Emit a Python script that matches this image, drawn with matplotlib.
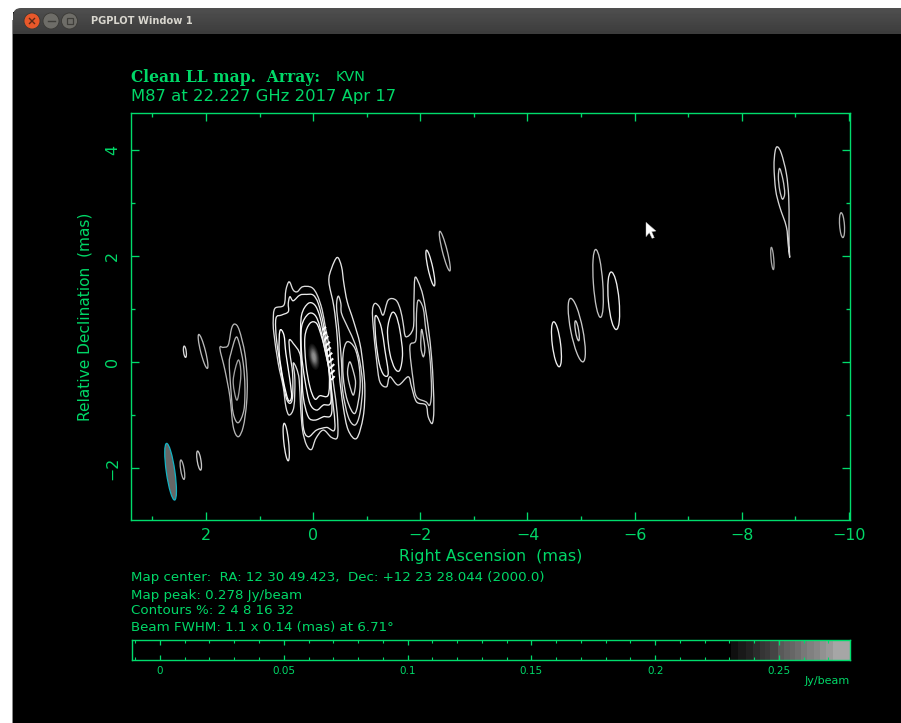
import matplotlib
matplotlib.use("Agg")
import matplotlib.pyplot as plt
from matplotlib.patches import Ellipse, Circle, FancyBboxPatch, Polygon, Rectangle, PathPatch
from matplotlib.path import Path
from matplotlib.ticker import MultipleLocator
import numpy as np

W, H = 901, 723
GREEN = "#00dc6c"
TXT = "#00d868"

# ---- contour traces (RA, Dec in mas) ----
ra_core1 = [.447,.372,.297,.198,.030,-.076,-.169,-.231,-.300,-.343,-.387,-.449,-.455,-.343,-.188,-.051,.030,.123,.198,.235,.260,.310,.372,.341,.360,.447,.509,.559,.652,.733,.745,.714,.546,.509]
dec_core1 = [1.516,1.359,1.327,1.421,1.409,1.264,.981,.635,.289,-.120,-.466,-.969,-1.409,-1.422,-1.283,-1.441,-1.648,-1.566,-1.283,-.843,-.340,-.120,-.025,-.340,-.843,-1.000,-.843,-.466,-.025,.541,.792,1.013,1.075,1.359]
ra_core2 = [.248,.123,-.001,-.095,-.188,-.250,-.300,-.343,-.405,-.250,-.063,.092,.185,.216,.235,.372,.447,.434,.384,.384,.434,.509,.590,.683,.695,.590,.465,.465,.434,.372]
dec_core2 = [1.264,1.277,1.264,1.107,.730,.289,-.151,-.529,-1.252,-1.233,-1.283,-1.409,-1.220,-.529,.101,.352,.415,.163,-.214,-.654,-.780,-.654,-.214,.415,.824,.887,.950,1.107,1.233,1.157]
ra_core3 = [.216,.092,-.032,-.126,-.200,-.269,-.325,-.343,-.188,-.032,.092,.185,.216,.235]
dec_core3 = [.887,1.107,1.075,.855,.478,.038,-.340,-.969,-1.032,-1.095,-1.032,-.654,-.088,.415]
ra_lobe3 = [.621,.546,.509,.434,.403,.465,.559,.633]
dec_lobe3 = [.591,.510,.163,-.340,-.654,-.717,-.340,.163]
ra_core4 = [.216,.092,-.032,-.126,-.219,-.294,-.331,-.188,-.063,.061,.154,.216]
dec_core4 = [.667,.906,.887,.667,.226,-.151,-.749,-.811,-.906,-.780,-.340,.163]
ra_core5 = [.154,.061,-.063,-.157,-.238,-.300,-.281,-.126,-.032,.061,.136]
dec_core5 = [.478,.730,.730,.478,.163,-.214,-.623,-.635,-.698,-.466,-.025]

ra_east1 = [-.449,-.530,-.573,-.636,-.748,-.872,-.934,-.965,-.934,-.810,-.654,-.561,-.486,-.449,-.387,-.294,-.343]
dec_east1 = [1.975,1.799,1.484,1.138,.792,.352,-.088,-.529,-1.032,-1.441,-1.283,-.843,-.214,.478,1.044,1.516,1.767]
ra_east2 = [-.468,-.517,-.530,-.654,-.779,-.872,-.922,-.872,-.779,-.654,-.549,-.530,-.486,-.437]
dec_east2 = [1.245,1.107,.918,.635,.352,.006,-.466,-.969,-1.189,-1.032,-.529,-.025,.541,1.044]
ra_east3 = [-.636,-.779,-.860,-.872,-.779,-.636,-.561,-.561]
dec_east3 = [.384,.258,-.088,-.529,-.969,-.717,-.277,.163]
ra_east4 = [-.685,-.760,-.791,-.748,-.673,-.642]
dec_east4 = [.006,-.214,-.403,-.623,-.403,-.182]

ra_jet1 = [-1.152,-1.233,-1.307,-1.401,-1.544,-1.631,-1.680,-1.730,-1.867,-1.880,-1.898,-1.961,-2.054,-2.147,-2.209,-2.240,-2.253,-2.222,-2.147,-2.104,-1.929,-1.836,-1.774,-1.587,-1.432,-1.370,-1.245,-1.183,-1.121,-1.108]
dec_jet1 = [1.107,1.044,.887,1.170,1.170,.981,.730,.478,.635,1.107,1.579,1.516,1.233,.667,.101,-.403,-.906,-1.158,-1.032,-.811,-.749,-.466,-.277,-.434,-.277,-.466,-.371,.038,.667,.981]
ra_jet2 = [-1.152,-1.195,-1.276,-1.339,-1.401,-1.320,-1.233,-1.171]
dec_jet2 = [.824,.855,.635,.226,-.214,-.245,-.025,.415]
ra_jet3 = [-1.463,-1.544,-1.618,-1.668,-1.618,-1.525,-1.432,-1.388]
dec_jet3 = [.918,.887,.604,.163,-.151,-.120,.163,.604]
ra_jet4 = [-1.961,-2.054,-2.104,-2.178,-2.209,-2.178,-2.104,-1.929,-1.867,-1.805,-1.917,-1.929]
dec_jet4 = [1.170,1.013,.604,.101,-.529,-.811,-.749,-.654,-.340,.289,.415,.918]
ra_jet5 = [-2.023,-2.066,-2.085,-2.054,-2.010]
dec_jet5 = [.616,.415,.226,.101,.289]

ra_west1 = [1.461,1.380,1.274,1.231,1.243,1.305,1.399,1.492,1.554,1.647,1.741,1.678,1.585,1.523]
dec_west1 = [.717,.604,.164,-.340,-.780,-1.220,-1.409,-1.220,-.654,-.151,.258,.277,.321,.635]
ra_west2 = [1.442,1.380,1.305,1.274,1.293,1.399,1.492,1.535,1.566,1.535]
dec_west2 = [.466,.352,-.025,-.465,-.906,-1.145,-.968,-.528,-.025,.164]
ra_west3 = [1.399,1.349,1.399,1.442,1.492]
dec_west3 = [.038,-.214,-.654,-.685,-.340]

ra_far1 = [-8.664,-8.739,-8.832,-8.876,-8.882,-8.882,-8.895,-8.864,-8.832,-8.708,-8.633,-8.602,-8.621]
dec_far1 = [4.063,3.937,3.559,3.119,2.616,2.238,1.974,2.238,2.553,2.930,3.245,3.685,3.968]
ra_far2 = [-8.708,-8.770,-8.801,-8.758,-8.708,-8.683]
dec_far2 = [3.654,3.434,3.182,3.075,3.245,3.496]

contours = [
    (ra_core1, dec_core1, "#dcdcdc"), (ra_core2, dec_core2, "#e8e8e8"),
    (ra_core3, dec_core3, "#f0f0f0"), (ra_lobe3, dec_lobe3, "#ffffff"),
    (ra_core4, dec_core4, "#f4f4f4"), (ra_core5, dec_core5, "#f4f4f4"),
    (ra_east1, dec_east1, "#e4e4e4"), (ra_east2, dec_east2, "#d8d8d8"),
    (ra_east3, dec_east3, "#dcdcdc"), (ra_east4, dec_east4, "#d0d0d0"),
    (ra_jet1, dec_jet1, "#d8d8d8"), (ra_jet2, dec_jet2, "#f0f0f0"),
    (ra_jet3, dec_jet3, "#f0f0f0"), (ra_jet4, dec_jet4, "#c8c8c8"),
    (ra_jet5, dec_jet5, "#c8c8c8"),
    (ra_west1, dec_west1, "#b4b4b4"), (ra_west2, dec_west2, "#b4b4b4"),
    (ra_west3, dec_west3, "#a0a0a0"),
    (ra_far1, dec_far1, "#d4d4d4"), (ra_far2, dec_far2, "#c8c8c8"),
]

# isolated elliptical contours: centre, full major, full minor, tilt
ell_ra = [2.394,2.055,2.440,2.129,.503,-2.188,-2.457,-4.541,-4.920,-4.926,-5.318,-5.610,-8.571,-9.871]
ell_dec = [.195,.201,-2.031,-1.859,-1.509,1.774,2.094,.336,.603,.590,1.484,1.157,1.955,2.584]
ell_major = [.214,.66,.37,.363,.71,.69,.77,.855,1.22,.38,1.285,1.09,.42,.47]
ell_minor = [.05,.09,.065,.07,.09,.09,.09,.155,.225,.06,.175,.2,.05,.09]
ell_tilt = [7,14,9,9,6,12,14,7,11,9,4,5,5,4]
ell_shade = ["#d8d8d8","#b8b8b8","#b0b0b0","#c8c8c8","#ececec","#f0f0f0","#b8b8b8","#f0f0f0","#c8c8c8","#d0d0d0","#c0c0c0","#f0f0f0","#a8a8a8","#b0b0b0"]

# clean beam
beam_ra, beam_dec, beam_major, beam_minor, beam_tilt = 2.661, -2.069, 1.08, .16, 8

# dense contours on the steep core edge (aliased stripes)
stripe_ra0 = [-.175,-.187,-.212,-.237,-.250,-.274,-.287,-.312,-.324,-.337]
stripe_dec0 = [.604,.510,.415,.308,.208,.101,-.013,-.119,-.226,-.340]
stripe_ra1 = [-.237,-.250,-.281,-.312,-.330,-.355,-.374,-.393,-.399,-.399]
stripe_dec1 = [.667,.572,.491,.384,.277,.176,.069,-.038,-.151,-.264]

# core brightness, nested
blob_ra, blob_dec, blob_tilt = -.013, .101, 10
blob_major = [.50,.45,.40,.35,.30,.25,.20,.14]
blob_minor = [.20,.18,.16,.14,.12,.10,.08,.055]
blob_gray = [.06,.11,.17,.24,.32,.40,.48,.55]

# colour wedge
wedge_edges = [.2305,.2335,.2365,.2395,.2425,.2445,.2465,.2495,.2520,.2545,.2565,.2590,.2615,.2640,.2665,.2690,.2720,.2787]
wedge_gray = [.06,.10,.13,.17,.21,.23,.27,.35,.38,.40,.43,.47,.50,.53,.57,.60,.65]

title_1 = "Clean LL map.  Array:"
title_1b = "KVN"
title_2 = "M87 at 22.227 GHz 2017 Apr 17"
info_lines = ["Map center:  RA: 12 30 49.423,  Dec: +12 23 28.044 (2000.0)",
              "Map peak: 0.278 Jy/beam",
              "Contours %: 2 4 8 16 32",
              "Beam FWHM: 1.1 x 0.14 (mas) at 6.71\u00b0"]
info_y = [578, 595, 611, 628]
wedge_ticks = [0, .05, .1, .15, .2, .25]
wedge_labels = ["0", "0.05", "0.1", "0.15", "0.2", "0.25"]


def box(x0, y0, x1, y1):
    return [x0 / W, 1 - y1 / H, (x1 - x0) / W, (y1 - y0) / H]


def smooth_closed(r, d):
    """Closed curve through every traced vertex (Catmull-Rom drawn as Beziers)."""
    p = np.column_stack([r, d])
    n = len(p)
    verts = [p[0]]
    codes = [Path.MOVETO]
    for i in range(n):
        p0, p1, p2, p3 = p[i - 1], p[i], p[(i + 1) % n], p[(i + 2) % n]
        verts += [p1 + (p2 - p0) / 6, p2 - (p3 - p1) / 6, p2]
        codes += [Path.CURVE4] * 3
    return Path(verts, codes)


fig = plt.figure(figsize=(W / 100, H / 100), dpi=100, facecolor="black")

# window chrome, in pixel coordinates
ov = fig.add_axes([0, 0, 1, 1], zorder=0)
ov.set_axis_off()
ov.add_patch(Rectangle((0, 0), W, H, fc="black", ec="none"))
ov.add_patch(Rectangle((0, 0), W, 12, fc="white", ec="none"))
ov.add_patch(Rectangle((0, 0), 12.5, H, fc="white", ec="none"))
ov.add_patch(Rectangle((12, 20), 1, H, fc="#8a8a8a", ec="none"))
bar = FancyBboxPatch((13 + 8, 8 + 8), W + 40, 30, boxstyle="round,pad=0,rounding_size=8", mutation_scale=1,
                     fc="none", ec="none")
bar.set_boxstyle("round", pad=8, rounding_size=8)
ov.add_patch(bar)
grad = np.linspace(.31, .235, 26).reshape(-1, 1)
im = ov.imshow(grad, extent=(13, W, 34, 8), cmap="gray", vmin=0, vmax=1, aspect="auto", zorder=2)
im.set_clip_path(bar)
ov.set_xlim(0, W)
ov.set_ylim(H, 0)
ov.add_patch(Rectangle((13, 34), W, H, fc="black", ec="none", zorder=1))
for cx, col in [(32, "#e8582a"), (51, "#6e6d68"), (69.5, "#6e6d68")]:
    ov.add_patch(Circle((cx, 21), 8, fc=col, ec="#3a3935", lw=.6, zorder=3))
ov.plot([29.5, 34.5], [18.5, 23.5], color="#5a2a18", lw=1, zorder=4)
ov.plot([29.5, 34.5], [23.5, 18.5], color="#5a2a18", lw=1, zorder=4)
ov.plot([47.5, 54.5], [21, 21], color="#3f3e3a", lw=1, zorder=4)
ov.add_patch(Rectangle((66.5, 18), 6, 6, fc="none", ec="#3f3e3a", lw=.9, zorder=4))
ov.text(91, 20.5, "PGPLOT Window 1", color="#d8d6ce", fontsize=7.1, fontweight="bold",
        family="DejaVu Sans", va="center", ha="left", zorder=5)
ov.add_patch(Polygon([(646, 222.3), (656, 231), (651.7, 231.7), (654.3, 237.7), (652, 238.3), (649.3, 232.7), (646, 236.7)],
                     closed=True, fc="white", ec="#bbbbbb", lw=.3, zorder=5))

# main map
ax = fig.add_axes(box(131, 113, 850, 520), zorder=2, facecolor="none")
ax.set_xlim(3.40, -10.02)
ax.set_ylim(-2.98, 4.70)

for g, mj, mn in zip(blob_gray, blob_major, blob_minor):
    ax.add_patch(Ellipse((blob_ra, blob_dec), mn, mj, angle=-blob_tilt, fc=str(g), ec="none", zorder=1))
for r, d, c in contours:
    ax.add_patch(PathPatch(smooth_closed(r, d), fc="none", ec=c, lw=.95, zorder=2))
for r, d, mj, mn, t, c in zip(ell_ra, ell_dec, ell_major, ell_minor, ell_tilt, ell_shade):
    ax.add_patch(Ellipse((r, d), mn, mj, angle=-t, fc="none", ec=c, lw=.95, zorder=2))
ax.add_patch(Ellipse((beam_ra, beam_dec), beam_minor, beam_major, angle=-beam_tilt, fc="#666666", ec="#12b4c4", lw=.9, zorder=2))
for x0, y0, x1, y1 in zip(stripe_ra0, stripe_dec0, stripe_ra1, stripe_dec1):
    ax.plot([x0, x1], [y0, y1], color="white", lw=1.5, zorder=3, solid_capstyle="butt")

for s in ax.spines.values():
    s.set_color(GREEN)
    s.set_linewidth(1.0)
ax.xaxis.set_major_locator(MultipleLocator(2))
ax.xaxis.set_minor_locator(MultipleLocator(1))
ax.yaxis.set_major_locator(MultipleLocator(2))
ax.yaxis.set_minor_locator(MultipleLocator(1))
ax.tick_params(which="major", direction="in", length=5.8, width=.95, color=GREEN, top=True, right=True,
               labelcolor=TXT, labelsize=11.4)
ax.tick_params(which="minor", direction="in", length=2.9, width=.95, color=GREEN, top=True, right=True)
ax.tick_params(axis="x", pad=6)
ax.tick_params(axis="y", pad=8, labelrotation=90)
for t in ax.get_yticklabels():
    t.set_va("center")
ax.set_xlabel("Right Ascension  (mas)", color=TXT, fontsize=11.4)
ax.xaxis.set_label_coords(.5, -(556 - 520) / 407)
ax.xaxis.label.set_va("center")
ax.set_ylabel("Relative Declination  (mas)", color=TXT, fontsize=11.1)
ax.yaxis.set_label_coords((85 - 131) / 719, .5)
ax.yaxis.label.set_va("center")

# colour wedge
cb = fig.add_axes(box(132, 639.5, 850, 660), zorder=2, facecolor="black")
cb.set_xlim(-.0113, .2787)
cb.set_ylim(0, 1)
cb.pcolormesh(wedge_edges, [0, 1], [wedge_gray], cmap="gray", vmin=0, vmax=1)
for s in cb.spines.values():
    s.set_color(GREEN)
    s.set_linewidth(1.0)
cb.set_yticks([])
cb.set_xticks(wedge_ticks)
cb.set_xticklabels(wedge_labels)
cb.xaxis.set_minor_locator(MultipleLocator(.01))
cb.tick_params(which="major", direction="in", length=3.6, width=.9, color=GREEN, top=True, labelcolor=TXT,
               labelsize=7.5, pad=4)
cb.tick_params(which="minor", direction="in", length=2.2, width=.8, color=GREEN, top=True)


def put(px, py, s, **kw):
    fig.text(px / W, 1 - py / H, s, color=TXT, va="center", **kw)


put(131, 77, title_1, fontsize=11.2, family="DejaVu Serif", fontweight="bold")
put(336, 77, title_1b, fontsize=10.4)
put(131, 97, title_2, fontsize=11.75)
for y, line in zip(info_y, info_lines):
    put(131, y, line, fontsize=9.6)
put(850, 681, "Jy/beam", fontsize=8.0, ha="right")

fig.savefig("out.png", dpi=100, facecolor="black")
